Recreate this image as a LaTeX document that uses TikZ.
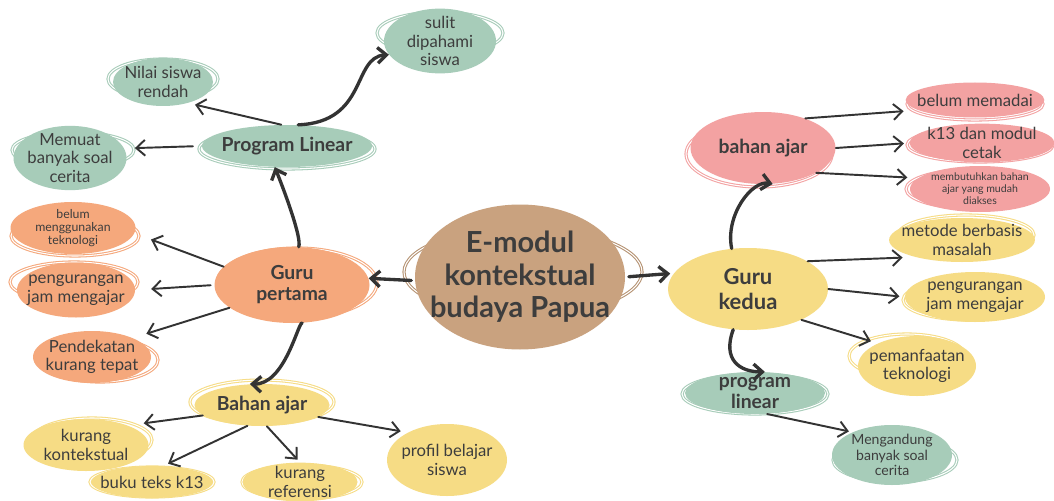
\documentclass[tikz,border=0pt]{standalone}
\usepackage{fontspec}
\setmainfont{Lato}
\usetikzlibrary{shapes.geometric,arrows.meta,backgrounds}

\definecolor{ink}{HTML}{333333}
\definecolor{txt}{HTML}{3D3D3D}
\definecolor{emtan}{HTML}{C9A27F}
\definecolor{org}{HTML}{F5A87C}
\definecolor{yel}{HTML}{F6DC85}
\definecolor{grn}{HTML}{A7CCB9}
\definecolor{pnk}{HTML}{F3A2A2}

\begin{document}
\begin{tikzpicture}[x=0.02cm, y=-0.02cm,
    bub/.style={ellipse, inner xsep=-5pt, inner ysep=-1pt, align=center, text=txt,
      font=\fontsize{9.5}{10.5}\selectfont},
    hub/.style={bub, font=\fontsize{11}{12}\selectfont\bfseries},
    sz/.style 2 args={minimum width=#1*0.02cm, minimum height=#2*0.02cm},
    arr/.style={draw=ink, line width=1.1pt, line cap=round,
      -{Straight Barb[length=5pt, width=9pt]}},
    thk/.style={arr, line width=1.9pt},
    ring/.style={draw=#1, line width=0.6pt, double=white, double distance=0.6pt}]
  \useasboundingbox (0,0) rectangle (1054,500);

  % centre and the two teachers
  \node[bub, sz={210}{145}, fill=emtan, inner xsep=-9pt, inner ysep=0pt,
    font=\fontsize{16.5}{18.5}\selectfont\bfseries] (emod) at (520,277)
    {E-modul\\kontekstual\\budaya Papua};
  \node[hub, sz={155}{76}, fill=org] (gp) at (292,285) {Guru\\pertama};
  \node[hub, sz={160}{82}, fill=yel,
    font=\fontsize{12.5}{14}\selectfont\bfseries] (gk) at (748,289) {Guru\\kedua};

  % sub topics
  \node[hub, sz={170}{42}, fill=grn] (pl) at (287,146) {Program Linear};
  \node[hub, sz={145}{72}, fill=pnk] (baP) at (763,148) {bahan ajar};
  \node[hub, sz={135}{42}, fill=yel] (baY) at (262,405) {Bahan ajar};
  \node[hub, sz={140}{42}, fill=grn] (plR) at (755,393) {program\\linear};

  % leaves, left
  \node[bub, sz={100}{48}, fill=grn] (nilai) at (163,82) {Nilai siswa\\rendah};
  \node[bub, sz={113}{62}, fill=grn] (memuat) at (70,158) {Memuat\\banyak soal\\cerita};
  \node[bub, sz={112}{64}, fill=grn] (sulit) at (440,41) {sulit\\dipahami\\siswa};
  \node[bub, sz={125}{52}, fill=org, font=\fontsize{7}{7.6}\selectfont]
    (blmtek) at (73,228) {belum\\menggunakan\\teknologi};
  \node[bub, sz={118}{55}, fill=org] (pjmA) at (76,290) {pengurangan\\jam mengajar};
  \node[bub, sz={118}{52}, fill=org] (pend) at (92,357) {Pendekatan\\kurang tepat};
  \node[bub, sz={125}{52}, fill=yel] (kkont) at (86,445) {kurang\\kontekstual};
  \node[bub, sz={115}{32}, fill=yel] (buku) at (152,482) {buku teks k13};
  \node[bub, sz={115}{38}, fill=yel] (kref) at (300,482) {kurang\\referensi};
  \node[bub, sz={120}{72}, fill=yel] (profil) at (447,460) {profil belajar\\siswa};

  % leaves, right
  \node[bub, sz={135}{35}, fill=pnk] (memadai) at (975,100) {belum memadai};
  \node[bub, sz={145}{38}, fill=pnk] (kcetak) at (982,143) {k13 dan modul\\cetak};
  \node[bub, sz={140}{46}, fill=pnk, font=\fontsize{6}{6.8}\selectfont]
    (butuh) at (980,189) {membutuhkan bahan\\ajar yang mudah\\diakses};
  \node[bub, sz={135}{44}, fill=yel] (metode) at (962,240) {metode berbasis\\masalah};
  \node[bub, sz={140}{50}, fill=yel] (pjmB) at (975,297) {pengurangan\\jam mengajar};
  \node[bub, sz={118}{60}, fill=yel] (manfaat) at (917,366) {pemanfaatan\\teknologi};
  \node[bub, sz={120}{60}, fill=grn, font=\fontsize{8}{8.8}\selectfont]
    (mengand) at (892,455) {Mengandung\\banyak soal\\cerita};

  % sketchy rings behind the bubbles
  \begin{scope}[on background layer]
    \fill[white] (0,0) rectangle (1054,500);
    \draw[ring=emtan!90!black] (emod.center) ++(3,-5) ellipse [x radius=119, y radius=44];
    \draw[ring=org] (gp.center) ++(5,-2) ellipse [x radius=80, y radius=35];
    \draw[ring=grn] (pl.center) ++(0,3) ellipse [x radius=88, y radius=20];
    \draw[ring=pnk] (baP.center) ++(-4,6) ellipse [x radius=73, y radius=33];
    \draw[ring=yel] (baY.center) ++(0,-3) ellipse [x radius=72, y radius=22];
    \draw[ring=grn] (plR.center) ++(0,1) ellipse [x radius=73, y radius=20];
    \draw[ring=grn] (nilai.center) ++(0,-3) ellipse [x radius=55, y radius=20];
    \draw[ring=grn] (memuat.center) ++(3,-8) ellipse [x radius=61, y radius=18];
    \draw[ring=grn] (sulit.center) ++(0,-8) ellipse [x radius=63, y radius=21];
    \draw[ring=org] (blmtek.center) ++(2,8) ellipse [x radius=64, y radius=20];
    \draw[ring=org] (pjmA.center) ++(-2,-8) ellipse [x radius=64, y radius=20];
    \draw[ring=org] (pend.center) ++(8,3) ellipse [x radius=58, y radius=22];
    \draw[ring=yel] (kkont.center) ++(6,-5) ellipse [x radius=60, y radius=22];
    \draw[ring=yel] (buku.center) ++(0,0) ellipse [x radius=62, y radius=15];
    \draw[ring=yel] (kref.center) ++(2,0) ellipse [x radius=60, y radius=17];
    \draw[ring=pnk] (memadai.center) ++(0,4) ellipse [x radius=68, y radius=16];
    \draw[ring=pnk] (kcetak.center) ++(-2,2) ellipse [x radius=73, y radius=17];
    \draw[ring=pnk] (butuh.center) ++(-3,0) ellipse [x radius=71, y radius=20];
    \draw[ring=yel] (metode.center) ++(4,-5) ellipse [x radius=68, y radius=20];
    \draw[ring=yel] (pjmB.center) ++(-6,3) ellipse [x radius=66, y radius=20];
    \draw[ring=yel] (manfaat.center) ++(-10,-10) ellipse [x radius=58, y radius=22];
    \draw[ring=grn] (mengand.center) ++(3,5) ellipse [x radius=62, y radius=22];
  \end{scope}

  % connectors from the centre
  \draw[thk, shorten <=2pt] (emod.182) -- (gp.5);
  \draw[thk, shorten <=2pt, shorten >=2pt] (emod.east) -- (gk.168);

  % Guru pertama
  \draw[thk] (gp.80) .. controls (302,238) and (284,190) .. (pl.-120);
  \draw[arr, shorten >=10pt] (gp.165) -- (blmtek.-5);
  \draw[arr, shorten <=2pt, shorten >=9pt] (gp.west) -- (pjmA.east);
  \draw[arr, shorten >=8pt] (gp.200) -- (pend.25);
  \draw[thk] (gp.-75) .. controls (298,322) and (285,385) .. (baY.120);

  % Program Linear
  \draw[arr, shorten >=4pt] (pl.105) -- (nilai.-40);
  \draw[arr, shorten <=5pt, shorten >=6pt] (pl.west) -- (memuat.10);
  \draw[thk] (pl.62) .. controls (368,122) and (352,57) .. (sulit.195);

  % Bahan ajar
  \draw[arr, shorten >=9pt] (baY.190) -- (kkont.25);
  \draw[arr, shorten >=3pt] (baY.235) -- (buku.55);
  \draw[arr, shorten >=2pt] (baY.283) -- (kref.north);
  \draw[arr, shorten >=4pt] (baY.-12) -- (profil.145);

  % Guru kedua
  \draw[thk] (gk.112) .. controls (725,215) and (752,180) .. (baP.-75);
  \draw[arr, shorten >=7pt] (gk.25) -- (metode.200);
  \draw[arr, shorten >=3pt] (gk.east) -- (pjmB.west);
  \draw[arr, shorten >=4pt] (gk.-30) -- (manfaat.150);
  \draw[thk] (gk.-110) .. controls (722,360) and (740,372) .. (plR.65);

  % bahan ajar
  \draw[arr, shorten >=8pt] (baP.35) -- (memadai.190);
  \draw[arr, shorten >=3pt] (baP.east) -- (kcetak.west);
  \draw[arr, shorten >=6pt] (baP.-25) -- (butuh.170);

  % program linear
  \draw[arr, shorten >=2pt] (plR.-60) -- (mengand.150);
\end{tikzpicture}
\end{document}
